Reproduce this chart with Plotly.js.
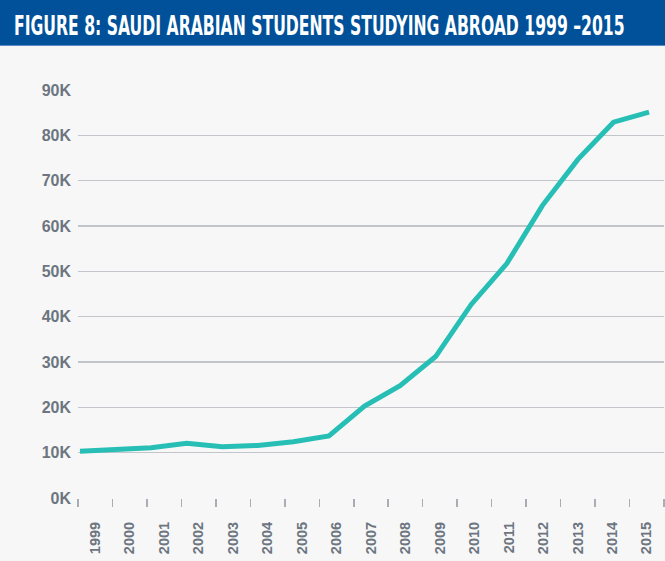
<!DOCTYPE html>
<html>
<head>
<meta charset="utf-8">
<script src="https://cdn.plot.ly/plotly-3.0.1.min.js"></script>
<style>
  html, body { margin: 0; padding: 0; background: #f7f7f7; }
  #chart { width: 665px; height: 561px; }
</style>
</head>
<body>
<div id="chart"></div>
<script>
// Data (thousands of students)
const years = ['1999','2000','2001','2002','2003','2004','2005','2006','2007','2008','2009','2010','2011','2012','2013','2014','2015'];
const yearNums = [1999,2000,2001,2002,2003,2004,2005,2006,2007,2008,2009,2010,2011,2012,2013,2014,2015];
const students = [10.3, 10.6, 11.1, 12.1, 11.3, 11.6, 12.4, 13.7, 20.3, 24.8, 31.2, 42.7, 51.7, 64.5, 74.7, 82.9, 85.1];
const yTicks = [0, 10, 20, 30, 40, 50, 60, 70, 80, 90];
const yTickText = ['0K','10K','20K','30K','40K','50K','60K','70K','80K','90K'];
const titleText = 'FIGURE 8: SAUDI ARABIAN STUDENTS STUDYING ABROAD 1999 \u20132015';

const W = 665, H = 561;
const mL = 78, mR = 1, mT = 90, mB = 63;
const pw = W - mL - mR, ph = H - mT - mB;

const traces = [
  {
    x: years, y: students.map(() => null), type: 'scatter', mode: 'lines',
    xaxis: 'x', yaxis: 'y', showlegend: false, hoverinfo: 'skip'
  },
  {
    x: yearNums, y: students, type: 'scatter', mode: 'lines',
    xaxis: 'x2', yaxis: 'y',
    line: { color: '#27bfb5', width: 5, shape: 'linear' },
    showlegend: false
  }
];

const layout = {
  width: W, height: H,
  margin: { l: mL, r: mR, t: mT, b: mB, pad: 0 },
  paper_bgcolor: '#f7f7f7',
  plot_bgcolor: '#f7f7f7',
  font: { family: '"DejaVu Sans Condensed", "Liberation Sans", Arial, sans-serif' },
  title: {
    text: titleText,
    x: 14 / W, xref: 'container', xanchor: 'left',
    y: 1 - 23 / H, yref: 'container', yanchor: 'middle',
    font: { family: '"DejaVu Sans Condensed", "Liberation Sans", sans-serif', size: 17, color: '#ffffff', weight: 'bold' }
  },
  xaxis: {
    type: 'category',
    range: [-0.5, 16.5],
    tickson: 'boundaries',
    ticks: 'outside', ticklen: 8, tickwidth: 1.5, tickcolor: '#a9aeb4',
    tickangle: -90,
    ticklabelstandoff: 20,
    showgrid: false, zeroline: false, showline: false,
    tickfont: { family: '"Liberation Sans", Arial, sans-serif', size: 14.5, color: '#6c7580', weight: 'bold' },
    fixedrange: true
  },
  xaxis2: {
    overlaying: 'x',
    range: [1998.944, 2015.42],
    visible: false,
    fixedrange: true
  },
  yaxis: {
    range: [0, 90],
    tickvals: yTicks,
    ticktext: yTickText,
    showgrid: true, gridcolor: '#c2c6cb', gridwidth: 1.6,
    zeroline: false, showline: false,
    ticks: '',
    ticklabelstandoff: 6,
    tickfont: { family: '"Liberation Sans", Arial, sans-serif', size: 16, color: '#6c7580', weight: 'bold' },
    fixedrange: true
  },
  shapes: [
    {
      type: 'rect', xref: 'paper', yref: 'paper',
      x0: -mL / pw, x1: 1 + mR / pw,
      y0: 1 + (mT - 45) / ph, y1: 1 + mT / ph,
      fillcolor: '#005199', line: { width: 0 }, layer: 'below'
    },
    {
      type: 'line', xref: 'paper', yref: 'paper',
      x0: -mL / pw, x1: 1 + mR / pw,
      y0: 1 + (mT - 45.5) / ph, y1: 1 + (mT - 45.5) / ph,
      line: { color: '#5a8cc4', width: 1 }, layer: 'below'
    }
  ]
};

Plotly.newPlot('chart', traces, layout, { displayModeBar: false, staticPlot: true }).then(() => {
  // Condensed, tall title look like the reference (text stays real text)
  const t = document.querySelector('.gtitle');
  if (t) {
    const bb = t.getBBox();
    const targetW = 611;
    const sx = targetW / bb.width;
    const sy = 1.55;
    const x0 = bb.x;
    const cy = bb.y + bb.height * 0.42;
    const prev = t.getAttribute('transform') || '';
    t.setAttribute('transform', prev + ` translate(${x0},${23}) scale(${sx},${sy}) translate(${-x0},${-cy})`);
  }
});
</script>
</body>
</html>
